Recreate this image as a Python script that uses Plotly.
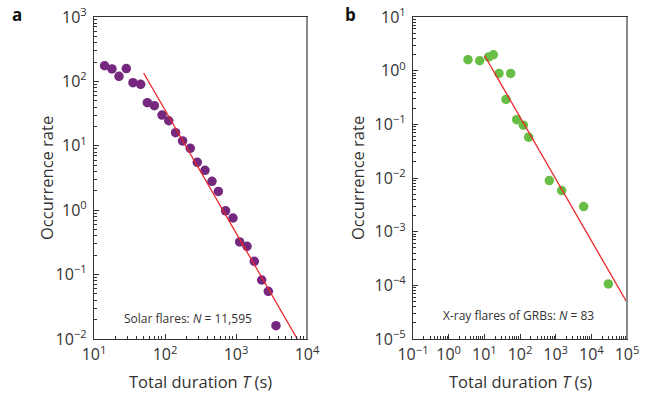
import plotly.graph_objects as go

# Panel a: solar flares
solar_T = [14.1, 17.9, 22.5, 28.5, 35.4, 45.4, 56.4, 70.8, 90.8, 113, 141, 177, 227, 285, 366,
           459, 564, 714, 907, 1127, 1429, 1811, 2301, 2853, 3655]
solar_rate = [175, 156, 120, 158, 95.5, 90, 46.8, 42, 30, 24.5, 16, 11.9, 9.14, 5.54, 4.16,
              2.81, 1.96, 0.98, 0.757, 0.321, 0.275, 0.161, 0.0824, 0.055, 0.0161]
solar_fit_T = [50, 7300]
solar_fit_rate = [135, 0.01]

# Panel b: X-ray flares of GRBs
grb_T = [3.48, 7.4, 13.2, 17.9, 25.8, 54.7, 40.5, 80.7, 124, 175, 664, 1472, 6095, 30000]
grb_rate = [1.60, 1.53, 1.80, 1.98, 0.89, 0.89, 0.291, 0.122, 0.0966, 0.0577, 0.00897,
            0.00583, 0.00294, 1.06e-4]
grb_fit_T = [10.2, 1e5]
grb_fit_rate = [1.90, 4.8e-5]

a_xticks = [1, 2, 3, 4]
a_yticks = [-2, -1, 0, 1, 2, 3]
b_xticks = [-1, 0, 1, 2, 3, 4, 5]
b_yticks = [-5, -4, -3, -2, -1, 0, 1]

PURPLE = "#76287f"
GREEN = "#68bd45"
RED = "#e8262a"
FONT = "Open Sans"
TXT = "#333333"

W, H = 651, 395


def px_x(p):
    return p / W


def px_y(p):
    return 1 - p / H


def pow_text(e):
    s = str(e).replace("-", "\u2212")
    return f"10<sup>{s}</sup>"


def minor_vals(exps):
    return [m * 10 ** e for e in exps[:-1] for m in range(2, 10)]


fig = go.Figure()
fig.add_trace(go.Scatter(x=solar_T, y=solar_rate, mode="markers",
                         marker=dict(color=PURPLE, size=9.5), xaxis="x", yaxis="y",
                         showlegend=False))
fig.add_trace(go.Scatter(x=solar_fit_T, y=solar_fit_rate, mode="lines",
                         line=dict(color=RED, width=1.3), xaxis="x", yaxis="y",
                         showlegend=False))
fig.add_trace(go.Scatter(x=grb_T, y=grb_rate, mode="markers",
                         marker=dict(color=GREEN, size=9.5), xaxis="x2", yaxis="y2",
                         showlegend=False))
fig.add_trace(go.Scatter(x=grb_fit_T, y=grb_fit_rate, mode="lines",
                         line=dict(color=RED, width=1.3), xaxis="x2", yaxis="y2",
                         showlegend=False))


def axis(exps, domain, anchor):
    return dict(
        type="log", range=[exps[0], exps[-1]], domain=domain, anchor=anchor,
        automargin=False,
        tickmode="array", tickvals=[10 ** e for e in exps], ticktext=[pow_text(e) for e in exps],
        ticks="inside", ticklen=5, tickwidth=1, tickcolor="#333",
        minor=dict(tickmode="array", tickvals=minor_vals(exps), ticks="inside",
                   ticklen=3, tickwidth=1, tickcolor="#333", showgrid=False),
        showline=True, linecolor="#333", linewidth=1.2, mirror=True,
        showgrid=False, zeroline=False,
        tickfont=dict(family=FONT, size=16, color=TXT),
    )


yd = [px_y(339), px_y(17)]
fig.update_layout(
    width=W, height=H, margin=dict(l=0, r=0, t=0, b=0, autoexpand=False),
    paper_bgcolor="white", plot_bgcolor="white",
    xaxis=axis(a_xticks, [px_x(94), px_x(307)], "y"),
    yaxis=axis(a_yticks, yd, "x"),
    xaxis2=axis(b_xticks, [px_x(413), px_x(627)], "y2"),
    yaxis2=axis(b_yticks, yd, "x2"),
)
fig.update_xaxes(ticklabelstandoff=1)
fig.update_yaxes(ticklabelstandoff=3)

# gray right borders
for xr, yr in [("x domain", "y domain"), ("x2 domain", "y2 domain")]:
    fig.add_shape(type="line", xref=xr, yref=yr, x0=1, x1=1, y0=0, y1=1,
                  line=dict(color="#8a8a8a", width=2))


def note(text, x, y, size, angle=0, color=TXT):
    return dict(text=text, x=px_x(x), y=px_y(y), xref="paper", yref="paper",
                xanchor="center", yanchor="middle", showarrow=False, textangle=angle,
                font=dict(family=FONT, size=size, color=color))


ann = [
    note("<b>a</b>", 17, 15, 17, color="#111"),
    note("<b>b</b>", 350, 15, 17, color="#111"),
    note("Total duration <i>T</i> (s)", 200, 381, 16.5),
    note("Total duration <i>T</i> (s)", 520, 381, 16.5),
    note("Occurrence rate", 47, 178, 16.5, angle=-90),
    note("Occurrence rate", 358, 178, 16.5, angle=-90),
    note("Solar flares: <i>N</i> = 11,595", 188, 318, 12),
    note("X-ray flares of GRBs: <i>N</i> = 83", 518, 315, 12),
]
fig.update_layout(annotations=ann)

fig.write_html("out.html", config={"displayModeBar": False},
               post_script="document.body.style.margin='0';document.body.style.padding='0';")
